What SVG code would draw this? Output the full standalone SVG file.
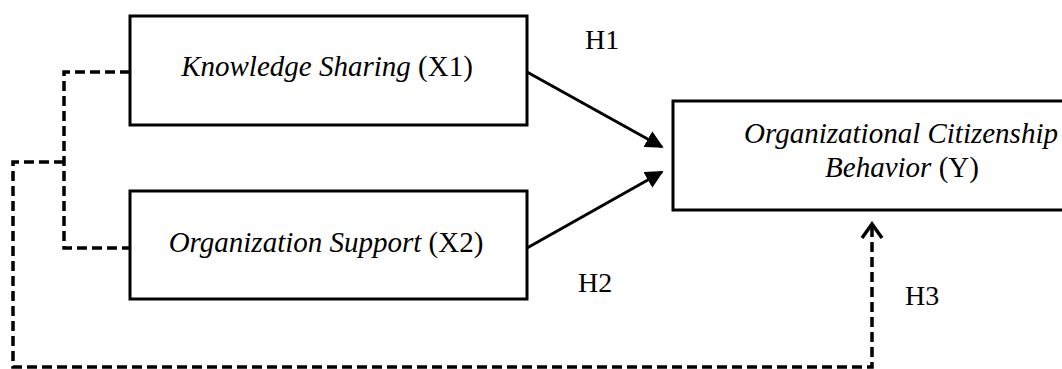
<svg xmlns="http://www.w3.org/2000/svg" width="1062" height="369" viewBox="0 0 1062 369">
<style>
.box{fill:#fff;stroke:#000;stroke-width:3}
.t{font-family:"Liberation Serif","Times New Roman",serif;font-size:29px;fill:#000}
.h{font-size:28px}
.i{font-style:italic}
.solid{fill:none;stroke:#000;stroke-width:3}
.dash{fill:none;stroke:#000;stroke-width:3.5;stroke-dasharray:10 5}
</style>
<defs>
<marker id="tri" viewBox="0 0 10 10" refX="9" refY="5" markerWidth="6" markerHeight="6" orient="auto" markerUnits="strokeWidth">
<path d="M0,0 L10,5 L0,10 z" fill="#000"/>
</marker>
<marker id="open" viewBox="0 0 20 24" refX="17" refY="12" markerWidth="20" markerHeight="24" orient="auto" markerUnits="userSpaceOnUse">
<path d="M3,2 L17,12 L3,22" fill="none" stroke="#000" stroke-width="3.5" stroke-linejoin="miter"/>
</marker>
</defs>
<g id="connectors">
<path class="solid" d="M527,72 L662,147" marker-end="url(#tri)"/>
<path class="solid" d="M527,248 L662,172" marker-end="url(#tri)"/>
<path class="dash" d="M130,72 H64 V248 H130"/>
<path class="dash" d="M64,162 H13 V367 H872 V224" marker-end="url(#open)"/>
</g>
<g id="x1">
<rect class="box" x="130" y="16" width="397" height="109"/>
<text class="t" x="327" y="76" text-anchor="middle"><tspan class="i">Knowledge Sharing</tspan> (X1)</text>
</g>
<g id="x2">
<rect class="box" x="130" y="191" width="397" height="108"/>
<text class="t" x="326" y="252" text-anchor="middle"><tspan class="i">Organization Support</tspan> (X2)</text>
</g>
<g id="y">
<rect class="box" x="673" y="101" width="400" height="109"/>
<text class="t" x="901" y="143" text-anchor="middle"><tspan class="i">Organizational Citizenship</tspan></text>
<text class="t" x="902" y="177" text-anchor="middle"><tspan class="i">Behavior</tspan> (Y)</text>
</g>
<g id="labels">
<text class="t h" x="585" y="49">H1</text>
<text class="t h" x="578" y="292">H2</text>
<text class="t h" x="905" y="305">H3</text>
</g>
</svg>
